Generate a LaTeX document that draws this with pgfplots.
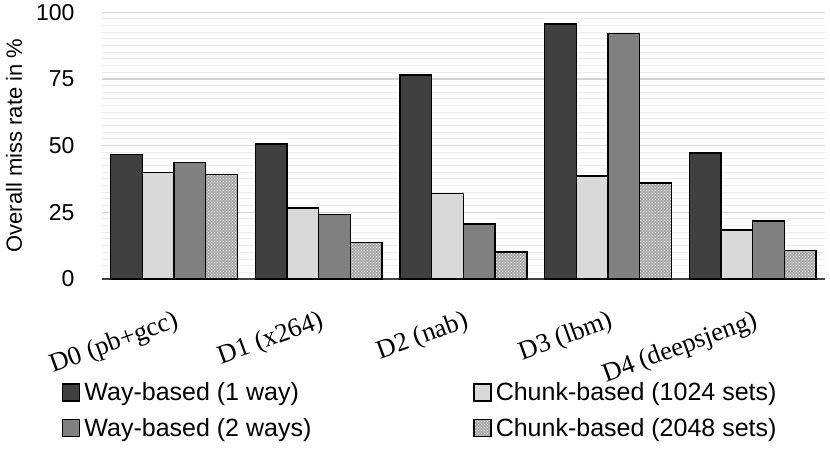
\documentclass[border=0pt]{standalone}
\usepackage{fontspec}
\setmainfont{Liberation Sans}
\newfontfamily\timesf{Liberation Serif}
\usepackage{pgfplots}
\pgfplotsset{compat=1.18}
\usetikzlibrary{patterns}
\definecolor{cdark}{HTML}{404040}
\definecolor{clight}{HTML}{D9D9D9}
\definecolor{cmid}{HTML}{808080}
\definecolor{cpat}{HTML}{A8A8A8}
\definecolor{gmaj}{HTML}{D4D4D4}
\definecolor{gmin}{HTML}{EDEDED}
\begin{document}
\begin{tikzpicture}
\begin{axis}[
  at={(0pt,0pt)}, anchor=south west,
  scale only axis, width=723.3pt, height=266.7pt,
  xmin=-0.5, xmax=4.5, ymin=0, ymax=100,
  ybar=0pt, bar width=31.7pt,
  xtick={0,1,2,3,4},
  xticklabels={D0 (pb+gcc), D1 (x264), D2 (nab), D3 (lbm), D4 (deepsjeng)},
  ytick={0,25,50,75,100},
  minor y tick num=9,
  ymajorgrids, yminorgrids,
  major grid style={draw=gmaj, line width=1.2pt},
  minor grid style={draw=gmin, line width=1pt},
  axis x line*=bottom, axis y line*=left,
  y axis line style={draw=none},
  x axis line style={draw=black!75, line width=1.5pt},
  major tick length=0pt, minor tick length=0pt,
  tick style={draw=none},
  /pgf/number format/assume math mode=true,
  yticklabel style={font=\fontsize{23pt}{27pt}\selectfont, anchor=east, inner sep=0pt, xshift=-27pt},
  xticklabel style={font=\timesf\fontsize{26.5pt}{30pt}\selectfont, rotate=20, anchor=north east, inner sep=0pt},
  xticklabel shift=30pt,
  ylabel={Overall miss rate in \%},
  ylabel style={font=\fontsize{22pt}{26pt}\selectfont, at={(axis description cs:-0.1213,0.5)}, anchor=center},
  legend columns=2,
  legend style={at={(axis description cs:-0.0549,-0.38)}, anchor=north west, draw=none, fill=none,
    font=\fontsize{25pt}{29pt}\selectfont, inner sep=0pt, row sep=12pt,
    nodes={inner xsep=4pt, inner ysep=2pt}},
  every axis plot post/.append style={draw=black, line width=1.5pt,
    legend image code/.code={\draw[#1, line width=1.3pt] (0pt,-8.5pt) rectangle (17pt,8.5pt);}},
]
\addplot[fill=cdark] coordinates {(0,46.6) (1,50.7) (2,76.4) (3,95.7) (4,47.25)};
\addplot[fill=clight] coordinates {(0,39.9) (1,26.6) (2,32.0) (3,38.6) (4,18.4)};
\addplot[fill=cmid] coordinates {(0,43.75) (1,24.25) (2,20.6) (3,92.1) (4,21.75)};
\addplot[fill=cpat, postaction={pattern=crosshatch dots, pattern color=white}] coordinates {(0,39.1) (1,13.75) (2,10.1) (3,36.0) (4,10.75)};
\legend{\makebox[385pt][l]{Way-based (1 way)}, Chunk-based (1024 sets), \makebox[385pt][l]{Way-based (2 ways)}, Chunk-based (2048 sets)}
\end{axis}
\pgfresetboundingbox
\path (-101.7pt,-171pt) rectangle (728.3pt,279pt);
\end{tikzpicture}
\end{document}
